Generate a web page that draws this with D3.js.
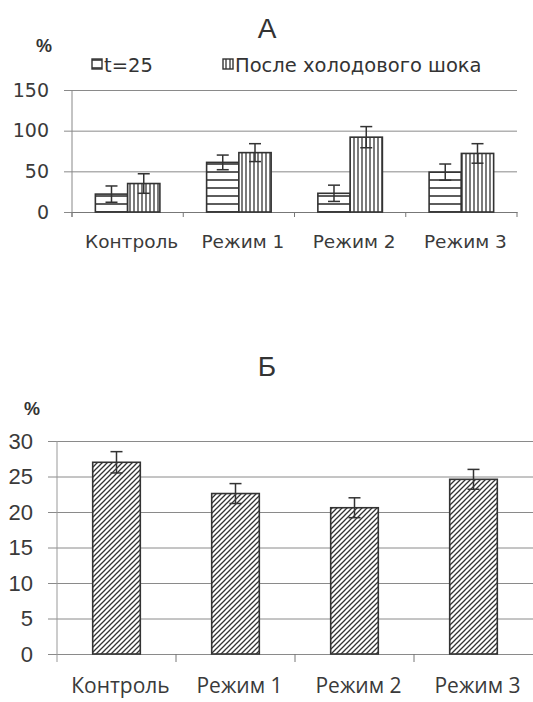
<!DOCTYPE html>
<html lang="ru">
<head>
<meta charset="utf-8" />
<title>А / Б</title>
<style>
  body { margin: 0; padding: 0; background: #fff; }
  svg { display: block; }
  .tick text { fill: #3a3a3a; }
  .grid line { stroke: #8a8a8a; stroke-width: 1; }
</style>
</head>
<body>
<div id="chart"></div>
<script src="https://d3js.org/d3.v7.min.js"></script>
<script>
// data, chart A
const catsA = ['Контроль', 'Режим 1', 'Режим 2', 'Режим 3'];
const seriesA = ['t=25', 'После холодового шока'];
const t25 = [22, 61, 23, 49];
const t25Err = [10, 9, 10, 10];
const shock = [35, 73, 92, 72];
const shockErr = [12, 11, 13, 12];
const ticksA = [0, 50, 100, 150];

// data, chart B
const catsB = ['Контроль', 'Режим 1', 'Режим 2', 'Режим 3'];
const valsB = [27.0, 22.6, 20.6, 24.6];
const errB = [1.5, 1.4, 1.4, 1.4];
const ticksB = [0, 5, 10, 15, 20, 25, 30];

const W = 533, H = 702;
const ink = '#333';
const svg = d3.select('#chart').append('svg')
    .attr('width', W)
    .attr('height', H);

const defs = svg.append('defs');
function pattern(id, size, path, w) {
  const p = defs.append('pattern')
      .attr('id', id)
      .attr('patternUnits', 'userSpaceOnUse')
      .attr('width', size).attr('height', size);
  p.append('rect').attr('width', size).attr('height', size).attr('fill', '#fff');
  p.append('path').attr('d', path).attr('stroke', ink).attr('stroke-width', w);
}
pattern('horiz', 8, 'M0,4H8', 1.6);
pattern('vert', 4, 'M2,0V4', 1.3);
pattern('diag', 5, 'M-1,6L6,-1M-1,1L1,-1M4,6L6,4', 1.3);

// ---------- chart A ----------
const xA = d3.scaleBand().domain(catsA).range([72, 517]).paddingInner(0.42).paddingOuter(0.21);
const xAs = d3.scaleBand().domain(seriesA).range([0, xA.bandwidth()]);
const yA = d3.scaleLinear().domain([0, 150]).range([212, 90]);
const fontA = 'DejaVu Sans, sans-serif';
const fontT = 'Liberation Sans, Arial, sans-serif';

const gA = svg.append('g');
gA.append('text').attr('x', 267).attr('y', 38).attr('text-anchor', 'middle')
    .attr('font-family', fontT).attr('font-size', 28).attr('fill', ink).text('А');
gA.append('text').attr('x', 36).attr('y', 52)
    .attr('font-family', fontT).attr('font-size', 18).attr('font-weight', 'bold').attr('fill', ink).text('%');

// legend
const legA = [
  { x: 92, fill: 'url(#horiz)', label: seriesA[0] },
  { x: 223, fill: 'url(#vert)', label: seriesA[1] }
];
legA.forEach(d => {
  gA.append('rect').attr('x', d.x).attr('y', 59).attr('width', 10).attr('height', 10)
      .attr('fill', d.fill).attr('stroke', ink).attr('stroke-width', 1.4);
  gA.append('text').attr('x', d.x + 12).attr('y', 72)
      .attr('font-family', fontA).attr('font-size', 19.5).attr('fill', ink).text(d.label);
});

gA.append('g').attr('class', 'grid')
    .attr('transform', 'translate(64,0)')
    .call(d3.axisLeft(yA).tickValues(ticksA).tickSize(-453).tickFormat(''))
    .call(g => g.select('.domain').remove());
gA.append('g')
    .attr('transform', 'translate(56,0)')
    .call(d3.axisLeft(yA).tickValues(ticksA).tickSize(0).tickPadding(7))
    .call(g => g.select('.domain').remove())
    .selectAll('text').attr('font-family', fontA).attr('font-size', 19);
gA.append('line').attr('x1', 72).attr('x2', 72).attr('y1', yA(150)).attr('y2', yA(0) + 5)
    .attr('stroke', '#888');
const xAxisA = gA.append('g')
    .attr('transform', `translate(0,${yA(0)})`)
    .call(d3.axisBottom(xA).tickSize(0).tickPadding(23))
    .call(g => g.select('.domain').attr('stroke', '#777'));
xAxisA.selectAll('text').attr('font-family', fontA).attr('font-size', 18.5).attr('dx', 4);
gA.selectAll('.sepA').data(d3.range(5)).enter().append('line')
    .attr('x1', i => 72 + i * (445 / 4)).attr('x2', i => 72 + i * (445 / 4))
    .attr('y1', yA(0)).attr('y2', yA(0) + 5).attr('stroke', '#777');

const barsA = [];
catsA.forEach((c, i) => {
  barsA.push({ cat: c, s: seriesA[0], v: t25[i], e: t25Err[i], fill: 'url(#horiz)' });
  barsA.push({ cat: c, s: seriesA[1], v: shock[i], e: shockErr[i], fill: 'url(#vert)' });
});
gA.selectAll('.barA').data(barsA).enter().append('rect')
    .attr('x', d => xA(d.cat) + xAs(d.s))
    .attr('y', d => yA(d.v))
    .attr('width', xAs.bandwidth())
    .attr('height', d => yA(0) - yA(d.v))
    .attr('fill', d => d.fill)
    .attr('stroke', ink).attr('stroke-width', 1.6);

function errBars(g, data, xc, y, cap) {
  const e = g.selectAll(null).data(data).enter().append('g')
      .attr('stroke', ink).attr('stroke-width', 1.5);
  e.append('line').attr('x1', xc).attr('x2', xc)
      .attr('y1', d => y(d.v + d.e)).attr('y2', d => y(d.v - d.e));
  e.append('line').attr('x1', d => xc(d) - cap).attr('x2', d => xc(d) + cap)
      .attr('y1', d => y(d.v + d.e)).attr('y2', d => y(d.v + d.e));
  e.append('line').attr('x1', d => xc(d) - cap).attr('x2', d => xc(d) + cap)
      .attr('y1', d => y(d.v - d.e)).attr('y2', d => y(d.v - d.e));
}
errBars(gA, barsA, d => xA(d.cat) + xAs(d.s) + xAs.bandwidth() / 2, yA, 6);

// ---------- chart Б ----------
const xB = d3.scaleBand().domain(catsB).range([57, 533]).paddingInner(0.6).paddingOuter(0.3);
const yB = d3.scaleLinear().domain([0, 30]).range([654, 441]);
const fontB = 'Open Sans, Noto Sans, sans-serif';

const gB = svg.append('g');
gB.append('text').attr('x', 267).attr('y', 376).attr('text-anchor', 'middle')
    .attr('font-family', fontT).attr('font-size', 28).attr('fill', ink).text('Б');
gB.append('text').attr('x', 24).attr('y', 415)
    .attr('font-family', fontT).attr('font-size', 18).attr('font-weight', 'bold').attr('fill', ink).text('%');

gB.append('g').attr('class', 'grid')
    .attr('transform', 'translate(48,0)')
    .call(d3.axisLeft(yB).tickValues(ticksB).tickSize(-485).tickFormat(''))
    .call(g => g.select('.domain').remove());
gB.append('g')
    .attr('transform', 'translate(36,0)')
    .call(d3.axisLeft(yB).tickValues(ticksB).tickSize(0).tickPadding(3))
    .call(g => g.select('.domain').remove())
    .selectAll('text').attr('font-family', fontT).attr('font-size', 22);
gB.append('line').attr('x1', 57).attr('x2', 57).attr('y1', yB(30)).attr('y2', yB(0) + 8)
    .attr('stroke', '#999');
gB.append('g')
    .attr('transform', `translate(0,${yB(0)})`)
    .call(d3.axisBottom(xB).tickSize(0).tickPadding(24))
    .call(g => g.select('.domain').remove())
    .selectAll('text').attr('font-family', fontB).attr('font-size', 21).attr('dx', 4);
gB.selectAll('.sepB').data(d3.range(1, 4)).enter().append('line')
    .attr('x1', i => 57 + i * 119).attr('x2', i => 57 + i * 119)
    .attr('y1', yB(0)).attr('y2', yB(0) + 8).attr('stroke', '#777');

const barsB = catsB.map((c, i) => ({ cat: c, v: valsB[i], e: errB[i] }));
gB.selectAll('.barB').data(barsB).enter().append('rect')
    .attr('x', d => xB(d.cat))
    .attr('y', d => yB(d.v))
    .attr('width', xB.bandwidth())
    .attr('height', d => yB(0) - yB(d.v))
    .attr('fill', 'url(#diag)')
    .attr('stroke', ink).attr('stroke-width', 1.6);
errBars(gB, barsB, d => xB(d.cat) + xB.bandwidth() / 2, yB, 6);
</script>
</body>
</html>
